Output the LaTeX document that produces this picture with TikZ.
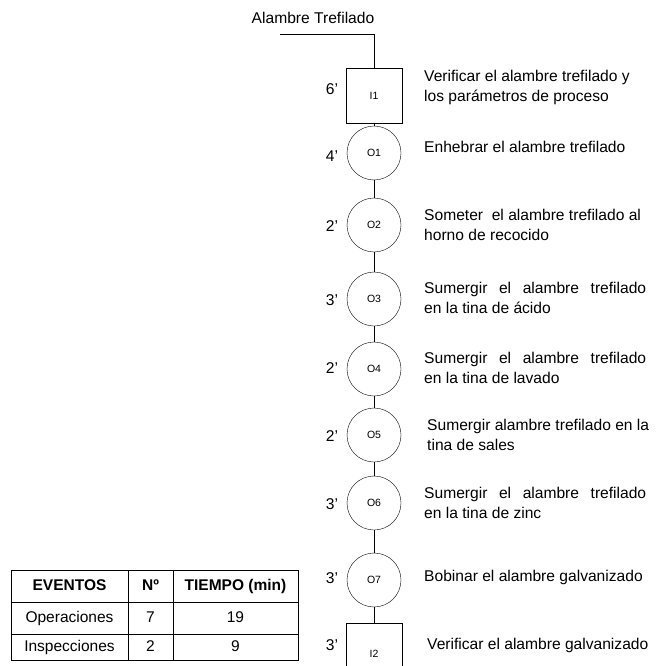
\documentclass[tikz,border=0pt]{standalone}
\usepackage{fontspec}
\setmainfont{Liberation Sans}
\usetikzlibrary{matrix,positioning}
\tikzstyle{insp} = [draw, rectangle, minimum width=56pt, minimum height=55pt, inner sep=0pt, font=\fontsize{10.5}{12}\selectfont]
\tikzstyle{oper} = [draw, circle, minimum size=54pt, inner sep=0pt, font=\fontsize{10.5}{12}\selectfont]
\tikzstyle{tiempo} = [anchor=center, font=\fontsize{15.6}{18}\selectfont]
\tikzstyle{desc} = [anchor=west, align=left, inner sep=0pt, font=\fontsize{15.6}{20}\selectfont]
\tikzstyle{flujo} = [line width=0.8pt]
\newcommand{\just}[1]{\makebox[222pt][s]{#1}}

\begin{document}
\begin{tikzpicture}[x=1pt,y=-1pt]
\useasboundingbox (0,0) rectangle (657,666);
% inicio
\node[tiempo] (entrada) at (313,18) {Alambre Trefilado};
\coordinate (a) at (280,34);
\coordinate (b) at (374,34);
% eventos
\node[insp] (i1) at (374,95.5) {I1};
\node[oper] (o1) at (374,153) {O1};
\node[oper] (o2) at (374,225) {O2};
\node[oper] (o3) at (374,299) {O3};
\node[oper] (o4) at (374,369) {O4};
\node[oper] (o5) at (374,435) {O5};
\node[oper] (o6) at (374,503) {O6};
\node[oper] (o7) at (374,580) {O7};
\node[insp, minimum height=62pt] (i2) at (374,654) {I2};
% lineas
\draw[flujo] (a)--(b)--(i1);
\draw[flujo] (i1)--(o1);
\draw[flujo] (o1)--(o2);
\draw[flujo] (o2)--(o3);
\draw[flujo] (o3)--(o4);
\draw[flujo] (o4)--(o5);
\draw[flujo] (o5)--(o6);
\draw[flujo] (o6)--(o7);
\draw[flujo] (o7)--(i2);
% tiempos
\node[tiempo] (t1) at (332,89) {6’};
\node[tiempo] (t2) at (332,156) {4’};
\node[tiempo] (t3) at (332,226) {2’};
\node[tiempo] (t4) at (332,300) {3’};
\node[tiempo] (t5) at (332,368) {2’};
\node[tiempo] (t6) at (332,436) {2’};
\node[tiempo] (t7) at (332,504) {3’};
\node[tiempo] (t8) at (332,578) {3’};
\node[tiempo] (t9) at (332,645) {3’};
% descripciones
\node[desc] (d1) at (424,87) {Verificar el alambre trefilado y\\los parámetros de proceso};
\node[desc] (d2) at (424,147) {Enhebrar el alambre trefilado};
\node[desc] (d3) at (424,225) {Someter\ \ el alambre trefilado al\\horno de recocido};
\node[desc] (d4) at (424,298) {\just{Sumergir el alambre trefilado}\\en la tina de ácido};
\node[desc] (d5) at (424,368) {\just{Sumergir el alambre trefilado}\\en la tina de lavado};
\node[desc] (d6) at (427,435) {Sumergir alambre trefilado en la\\tina de sales};
\node[desc] (d7) at (424,503) {\just{Sumergir el alambre trefilado}\\en la tina de zinc};
\node[desc] (d8) at (424,577) {Bobinar el alambre galvanizado};
\node[desc] (d9) at (427,645) {Verificar el alambre galvanizado};
% tabla resumen
\matrix (tabla) [matrix of nodes, column sep=-0.8pt, row sep=-0.8pt,
  nodes={draw, anchor=center, line width=0.8pt, minimum height=32pt, text height=11.5pt, text depth=3pt, inner sep=0pt, font=\fontsize{15.5}{17}\selectfont},
  row 3/.style={nodes={minimum height=26pt}},
  column 1/.style={nodes={minimum width=117pt}},
  column 2/.style={nodes={minimum width=45pt}},
  column 3/.style={nodes={minimum width=125pt}}] at (154.5,615.5) {
  \textbf{EVENTOS} & \textbf{Nº} & \textbf{TIEMPO (min)} \\
  Operaciones & 7 & 19 \\
  Inspecciones & 2 & 9 \\
};
\end{tikzpicture}
\end{document}
